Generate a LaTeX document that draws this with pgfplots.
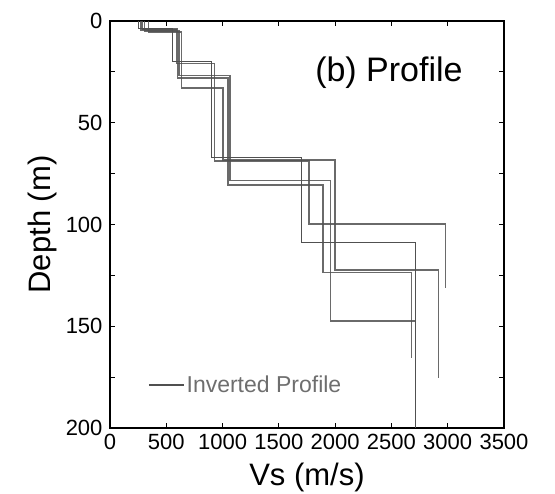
\documentclass[border=0pt]{standalone}
\usepackage{fontspec}
\setmainfont{Liberation Sans}
\usepackage{pgfplots}
\pgfplotsset{compat=1.18}
\definecolor{prof}{RGB}{80,80,80}
\definecolor{legtext}{RGB}{110,110,110}
\begin{document}
\begin{tikzpicture}
\path[use as bounding box] (-110pt,-66pt) rectangle (445pt,428pt);
\begin{axis}[
  at={(0,0)}, anchor=south west,
  scale only axis, width=394pt, height=407pt,
  xmin=0, xmax=3500, ymin=0, ymax=200, y dir=reverse,
  xtick={0,500,...,3500}, ytick={0,50,...,200}, minor ytick={25,75,125,175},
  tick align=inside, major tick length=5pt, minor tick length=5pt,
  axis line style={line width=1.4pt},
  every tick/.style={black, line width=1.2pt},
  ticklabel style={font=\fontsize{22}{24}\selectfont},
  /pgf/number format/assume math mode=true,
  /pgf/number format/1000 sep={},
  scaled ticks=false,
  xticklabel style={yshift=-3pt},
  yticklabel style={xshift=-4pt},
  xlabel={Vs (m/s)}, ylabel={Depth (m)},
  label style={font=\fontsize{31}{33}\selectfont},
  xlabel style={at={(axis description cs:0.5,0)}, anchor=center, yshift=-49pt},
  ylabel style={at={(axis description cs:0,0.5)}, anchor=center, rotate=0, xshift=0pt, yshift=68pt},
  legend style={draw=none, fill=none, at={(axis description cs:0.0965,0.106)}, anchor=west,
    inner sep=0pt, font=\fontsize{23}{25}\selectfont, text=legtext},
  legend cell align=left,
  legend image code/.code={\draw[prof, line width=1.4pt] (0pt,0pt) -- (35pt,0pt);},
  cycle list={{prof, line width=1.5pt, opacity=0.85, mark=none}},
]
\addplot coordinates {(252,0)(252,3.5)(552,3.5)(552,19.9)(900,19.9)(900,67.1)(1698,67.1)(1698,108.7)(2715,108.7)(2715,200)};
\addlegendentry{Inverted Profile}
\addplot[prof, line width=1.5pt, opacity=0.85, forget plot] coordinates {(275,0)(275,4.5)(590,4.5)(590,20.8)(930,20.8)(930,68.9)(1766,68.9)(1766,99.8)(2980,99.8)(2980,131)};
\addplot[prof, line width=1.5pt, opacity=0.85, forget plot] coordinates {(305,0)(305,5.0)(612,5.0)(612,26.7)(1066,26.7)(1066,78.5)(1957,78.5)(1957,147.3)(2712,147.3)(2712,200)};
\addplot[prof, line width=1.5pt, opacity=0.85, forget plot] coordinates {(340,0)(340,5.5)(636,5.5)(636,32.9)(1006,32.9)(1006,68.4)(2000,68.4)(2000,122.4)(2916,122.4)(2916,175.5)};
\addplot[prof, line width=1.5pt, opacity=0.85, forget plot] coordinates {(290,0)(290,4.0)(600,4.0)(600,27.9)(1050,27.9)(1050,80.6)(1894,80.6)(1894,123.7)(2680,123.7)(2680,165.4)};
\node[font=\fontsize{34}{36}\selectfont] at (axis description cs:0.708,0.872) {(b) Profile};
\end{axis}
\end{tikzpicture}
\end{document}
